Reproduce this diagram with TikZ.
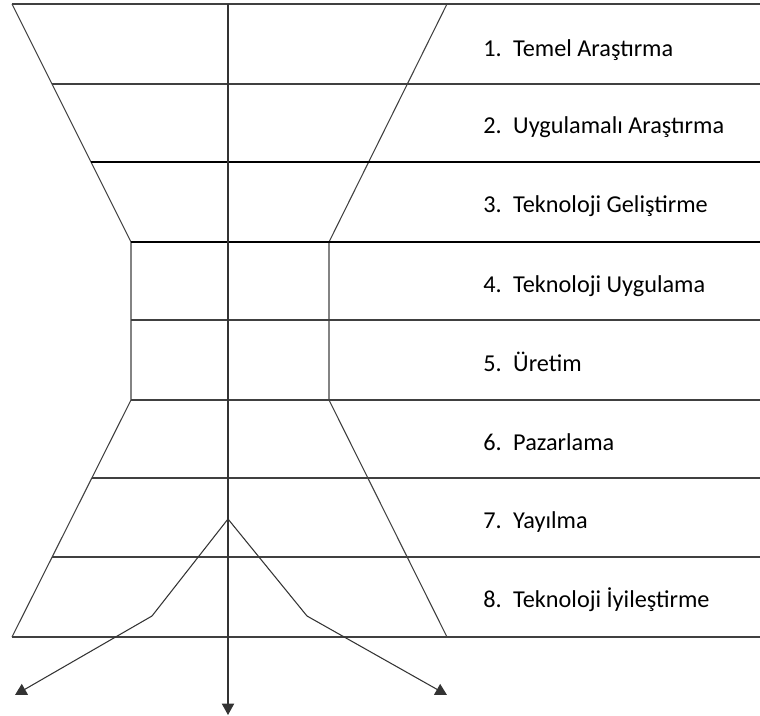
\documentclass[tikz,border=0pt]{standalone}
\usepackage{fontspec}
\setmainfont{Carlito}
\usetikzlibrary{arrows.meta}

\begin{document}
\begin{tikzpicture}[x=0.02cm, y=-0.02cm,
  edge/.style={black!75, line width=0.6pt},
  strong/.style={black, line width=0.8pt},
  arrow/.style={black!80, line width=0.6pt, -{Triangle[length=6.5pt, width=7pt]}},
  stage/.style={anchor=base west, inner sep=0pt, font=\fontsize{13.8}{16}\selectfont}]

  \useasboundingbox (0,0) rectangle (760,716);

  % funnel outline
  \coordinate (tl) at (12,4);
  \coordinate (tr) at (447,4);
  \coordinate (ml1) at (131,242);
  \coordinate (mr1) at (329,242);
  \coordinate (ml2) at (131,400);
  \coordinate (mr2) at (329,400);
  \coordinate (bl) at (12,637);
  \coordinate (br) at (447,637);
  \coordinate (top) at (228,4);
  \coordinate (peak) at (228,519);
  \coordinate (kl) at (152,616);
  \coordinate (kr) at (307,616);
  \coordinate (endl) at (15,695);
  \coordinate (endr) at (447,695);
  \coordinate (endc) at (228,715);

  \draw [edge] (tl) -- (ml1) -- (ml2) -- (bl);
  \draw [edge] (tr) -- (mr1) -- (mr2) -- (br);

  % rows
  \draw [edge] (tl) -- (760,4);
  \draw [edge] (52,84) -- (760,84);
  \draw [strong] (91,162) -- (760,162);
  \draw [strong] (ml1) -- (760,242);
  \draw [edge] (131,320) -- (760,320);
  \draw [edge] (ml2) -- (760,400);
  \draw [edge] (92,478) -- (760,478);
  \draw [edge] (52,557) -- (760,557);
  \draw [edge] (bl) -- (760,637);

  % arrows
  \draw [arrow] (top) -- (endc);
  \draw [arrow] (peak) -- (kl) -- (endl);
  \draw [arrow] (peak) -- (kr) -- (endr);

  % labels
  \node (lab1) [stage] at (483,57) {\makebox[17pt][l]{1.}Temel Araştırma};
  \node (lab2) [stage] at (483,134) {\makebox[17pt][l]{2.}Uygulamalı Araştırma};
  \node (lab3) [stage] at (483,213) {\makebox[17pt][l]{3.}Teknoloji Geliştirme};
  \node (lab4) [stage] at (483,292) {\makebox[17pt][l]{4.}Teknoloji Uygulama};
  \node (lab5) [stage] at (483,371) {\makebox[17pt][l]{5.}Üretim};
  \node (lab6) [stage] at (483,450) {\makebox[17pt][l]{6.}Pazarlama};
  \node (lab7) [stage] at (483,528) {\makebox[17pt][l]{7.}Yayılma};
  \node (lab8) [stage] at (483,607) {\makebox[17pt][l]{8.}Teknoloji İyileştirme};
\end{tikzpicture}
\end{document}
